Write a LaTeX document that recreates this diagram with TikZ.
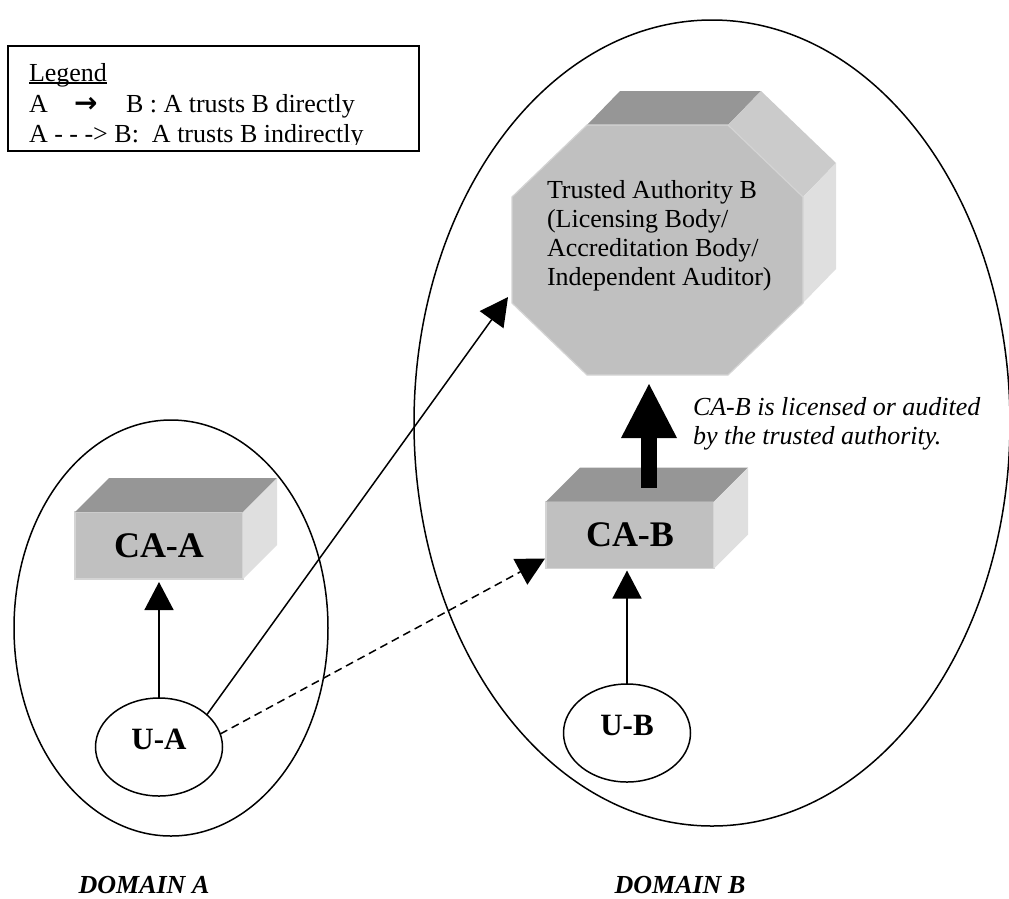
\documentclass[tikz,border=0pt]{standalone}
\usepackage{fontspec}
\setmainfont{Liberation Serif}
\newfontfamily\arrowfont{DejaVu Sans}
\usetikzlibrary{shapes.geometric, arrows.meta, calc}

\definecolor{frontgray}{HTML}{C0C0C0}
\definecolor{topgray}{HTML}{969696}
\definecolor{diaggray}{HTML}{CBCBCB}
\definecolor{sidegray}{HTML}{DFDFDF}
\definecolor{edgegray}{HTML}{D4D4D4}

% left-aligned block of lines whose baseline is the first line
\newcommand\lstack[1]{\begin{tabular}[t]{@{}l@{}}#1\end{tabular}}

\begin{document}
\begin{tikzpicture}[x=1pt, y=-1pt,
  every node/.style={inner sep=0pt, outer sep=0pt},
  domainoval/.style={draw, ellipse, line width=1.5pt},
  useroval/.style={draw, ellipse, line width=1.5pt, minimum width=127pt, minimum height=98pt,
    text depth=16pt, font=\fontsize{31}{31}\selectfont\bfseries},
  cabox/.style={fill=frontgray, draw=edgegray, line width=1.2pt, minimum width=168pt,
    minimum height=67pt, font=\fontsize{36}{36}\selectfont\bfseries},
  topface/.style={fill=topgray},
  diagface/.style={fill=diaggray},
  sideface/.style={fill=sidegray},
  bodytext/.style={anchor=base west, font=\fontsize{26}{29}\selectfont},
  notetext/.style={anchor=base west, font=\fontsize{26}{29}\selectfont\itshape},
  legtext/.style={anchor=base west, font=\fontsize{26}{29}\selectfont},
  domlabel/.style={anchor=base, font=\fontsize{26}{29}\selectfont\bfseries\itshape},
  arr/.style={line width=1.5pt, -{Triangle[length=28pt,width=29pt]}},
  dasharr/.style={arr, dash pattern=on 8pt off 5pt},
  bigarr/.style={line width=16pt, -{Triangle[length=54pt,width=56pt,line width=0pt]}},
]
\useasboundingbox (0,0) rectangle (1009,898);

% ---------- domains ----------
\node[domainoval, minimum width=314pt, minimum height=416pt] (domA) at (171,628) {};
\node[domainoval, minimum width=596pt, minimum height=806pt] (domB) at (712,423) {};

% ---------- legend (text is cut by the frame's inner margin) ----------
\begin{scope}
  \clip (8,46) rectangle (419,144.5);
  \node[legtext] (legtitle) at (29,81) {Legend};
  \draw[line width=1.2pt] ([yshift=-2pt]legtitle.base west) -- ([yshift=-2pt]legtitle.base east);
  \node[legtext] (leg2) at (29,112)
    {\makebox[45pt][l]{A}\makebox[52pt][l]{\arrowfont\bfseries\fontsize{28}{28}\selectfont →}B : A trusts B directly};
  \node[legtext] (leg3) at (29,142.5) {A - - -> B:\ \ A trusts B indirectly};
\end{scope}
\node[draw, line width=1.5pt, minimum width=411pt, minimum height=105pt, anchor=north west]
  (legend) at (8,46) {};

% ---------- trusted authority (octagonal prism) ----------
\node[minimum width=291pt, minimum height=250pt] (ta) at (657.5,250) {};
\path ($(ta.north west)+(75,0)$)  coordinate (o1)
      ($(ta.north east)+(-75,0)$) coordinate (o2)
      ($(ta.north east)+(0,72)$)  coordinate (o3)
      ($(ta.south east)+(0,-72)$) coordinate (o4)
      ($(ta.south east)+(-75,0)$) coordinate (o5)
      ($(ta.south west)+(75,0)$)  coordinate (o6)
      ($(ta.south west)+(0,-72)$) coordinate (o7)
      ($(ta.north west)+(0,72)$)  coordinate (o8);
\fill[topface]  (o1) -- (o2) -- ++(33,-34) -- ($(o1)+(33,-34)$) -- cycle;
\fill[diagface] (o2) -- (o3) -- ++(33,-34) -- ($(o2)+(33,-34)$) -- cycle;
\fill[sideface] (o3) -- (o4) -- ++(33,-34) -- ($(o3)+(33,-34)$) -- cycle;
\filldraw[fill=frontgray, draw=edgegray, line width=1.2pt]
  (o1) -- (o2) -- (o3) -- (o4) -- (o5) -- (o6) -- (o7) -- (o8) -- cycle;
\node[bodytext] (tatext) at (547,198)
  {\lstack{Trusted Authority B\\(Licensing Body/\\Accreditation Body/\\Independent Auditor)}};

% ---------- certification authorities (boxes) ----------
\node[cabox] (caa) at (159,545.5) {CA-A};
\fill[topface]  (caa.north west) -- ++(34,-34) -- ($(caa.north east)+(34,-34)$) -- (caa.north east) -- cycle;
\fill[sideface] (caa.north east) -- ++(34,-34) -- ($(caa.south east)+(34,-34)$) -- (caa.south east) -- cycle;

\node[cabox] (cab) at (630,535) {CA-B};
\fill[topface]  (cab.north west) -- ++(34,-34) -- ($(cab.north east)+(34,-34)$) -- (cab.north east) -- cycle;
\fill[sideface] (cab.north east) -- ++(34,-34) -- ($(cab.south east)+(34,-34)$) -- (cab.south east) -- cycle;

% ---------- users ----------
\node[useroval] (ua) at (159,747) {U-A};
\node[useroval] (ub) at (627,733) {U-B};

% ---------- trust relations ----------
\coordinate (taedge) at ($(o7)+(-4,-6)$);
\coordinate (cableft) at ($(cab.south west)+(-1,-10)$);
\coordinate (cabtop) at ($(cab.north)+(19,-14)$);

\draw[arr, shorten >=3pt] (ua) -- (caa);
\draw[arr] (ua.34) -- (taedge);
\draw[dasharr] (ua.12) -- (cableft);
\draw[arr, shorten >=2pt] (ub.north) -- (ub.north |- cab.south);
\draw[bigarr, shorten >=9pt] (cabtop) -- (cabtop |- ta.south);

\node[notetext] (licnote) at (693,415)
  {\lstack{CA-B is licensed or audited\\by the trusted authority.}};

% ---------- domain captions ----------
\node[domlabel] (dA) at (144,893) {DOMAIN A};
\node[domlabel] (dB) at (680,893) {DOMAIN B};
\end{tikzpicture}
\end{document}
